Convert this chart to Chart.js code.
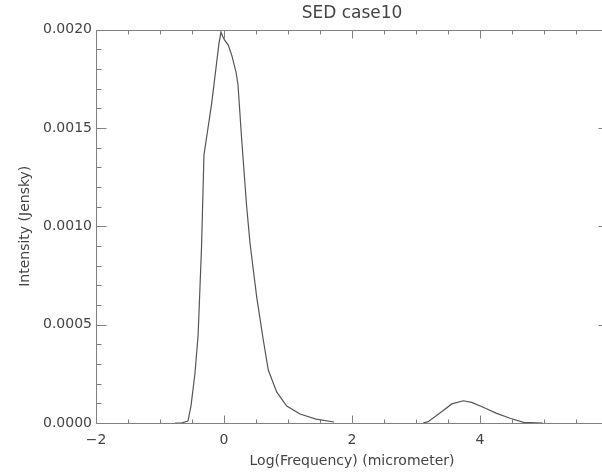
<!doctype html>
<html lang="en">
  <head>
    <meta charset="utf-8">
    <title>SED case10</title>
    <script src="https://cdn.jsdelivr.net/npm/chart.js@4.4.1/dist/chart.umd.min.js"></script>
    <style>
      body { margin: 0; overflow: hidden; background: #fff; }
      #chart-container { position: relative; width: 620px; height: 472px; }
    </style>
  </head>
  <body>
    <div id="chart-container">
      <canvas id="sed-chart"></canvas>
    </div>
    <script>
    // optical / near-IR peak
    const peak1X = [-0.766, -0.656, -0.563, -0.516, -0.453, -0.405, -0.375, -0.352, -0.34, -0.313,
                    -0.192, -0.078, -0.047, -0.023, 0.008, 0.067, 0.125, 0.188, 0.219, 0.277,
                    0.352, 0.406, 0.511, 0.614, 0.692, 0.823, 0.98, 1.188, 1.438, 1.72];
    const peak1Y = [0, 0.000001, 0.00001, 0.000086, 0.000254, 0.000445, 0.000692, 0.000885, 0.001032, 0.001362,
                    0.001626, 0.001931, 0.001987, 0.001967, 0.001947, 0.001921, 0.001865, 0.001784, 0.001718, 0.001438,
                    0.001108, 0.000915, 0.00064, 0.000422, 0.000269, 0.000158, 0.000086, 0.000046, 0.00002, 0.000005];
    // far-IR bump
    const peak2X = [3.11, 3.19, 3.40, 3.56, 3.74, 3.87, 4.05, 4.26, 4.47, 4.68, 4.98];
    const peak2Y = [0, 0.0000066, 0.000057, 0.000097, 0.000113, 0.000105, 0.00008, 0.000049, 0.000024, 0.0000036, 0];

    const xTickValues = [-2, 0, 2, 4];
    const yTickValues = [0, 0.0005, 0.001, 0.0015, 0.002];

    const axisColor = '#808080';
    const lineColor = '#555555';
    const textColor = '#444444';
    const fontFamily = '"DejaVu Sans", sans-serif';

    function toPoints(xs, ys) {
      return xs.map((x, i) => ({ x: x, y: ys[i] }));
    }

    // IDL style frame: box round the plot with inward major/minor ticks on all four sides
    const framePlugin = {
      id: 'frame',
      beforeDatasetsDraw(chart) {
        const { ctx, chartArea: a, scales: { x, y } } = chart;
        const L = Math.round(a.left) + 0.5, R = Math.round(a.right) + 0.5;
        const T = Math.round(a.top) + 0.5, B = Math.round(a.bottom) + 0.5;
        ctx.save();
        ctx.strokeStyle = axisColor;
        ctx.lineWidth = 1;
        ctx.beginPath();
        ctx.rect(L, T, R - L, B - T);
        // x ticks every 0.5, major every 2
        for (let v = x.min; v <= x.max + 1e-9; v += 0.5) {
          const px = Math.round(x.getPixelForValue(v)) + 0.5;
          const len = Math.abs(v % 2) < 1e-9 ? 8 : 4;
          ctx.moveTo(px, B); ctx.lineTo(px, B - len);
          ctx.moveTo(px, T); ctx.lineTo(px, T + len);
        }
        // y ticks every 0.0001, major every 0.0005
        for (let i = 0; i <= 20; i++) {
          const py = Math.round(y.getPixelForValue(i * 0.0001)) + 0.5;
          const len = i % 5 === 0 ? 10 : 5;
          ctx.moveTo(L, py); ctx.lineTo(L + len, py);
          ctx.moveTo(R, py); ctx.lineTo(R - len, py);
        }
        ctx.stroke();
        ctx.restore();
      }
    };

    const lineStyle = {
      borderColor: lineColor,
      borderWidth: 1.2,
      pointRadius: 0,
      showLine: true,
      tension: 0,
      fill: false
    };

    new Chart(document.getElementById('sed-chart'), {
      type: 'scatter',
      data: {
        datasets: [
          Object.assign({ label: 'peak1', data: toPoints(peak1X, peak1Y) }, lineStyle),
          Object.assign({ label: 'peak2', data: toPoints(peak2X, peak2Y) }, lineStyle)
        ]
      },
      options: {
        responsive: true,
        maintainAspectRatio: false,
        animation: false,
        layout: { padding: { left: 0, right: 12, top: 0, bottom: 0 } },
        plugins: {
          legend: { display: false },
          tooltip: { enabled: false },
          title: {
            display: true,
            text: 'SED case10',
            fullSize: false,
            color: textColor,
            font: { family: fontFamily, size: 17, weight: 'normal' },
            padding: { top: 3, bottom: 6.1 }
          }
        },
        scales: {
          x: {
            type: 'linear',
            min: -2,
            max: 6,
            afterFit: (s) => { s.height = 49; },
            afterBuildTicks: (s) => { s.ticks = xTickValues.map(v => ({ value: v })); },
            grid: { display: false, drawTicks: false },
            border: { display: false },
            ticks: {
              color: textColor,
              padding: 9,
              font: { family: fontFamily, size: 14 },
              callback: (v) => String(v).replace('-', '\u2212')
            },
            title: {
              display: true,
              text: 'Log(Frequency) (micrometer)',
              color: textColor,
              font: { family: fontFamily, size: 14 },
              padding: { top: 0, bottom: 2.6 }
            }
          },
          y: {
            type: 'linear',
            min: 0,
            max: 0.002,
            afterFit: (s) => { s.width = 96; },
            afterBuildTicks: (s) => { s.ticks = yTickValues.map(v => ({ value: v })); },
            grid: { display: false, drawTicks: false },
            border: { display: false },
            ticks: {
              color: textColor,
              padding: 4,
              font: { family: fontFamily, size: 14 },
              callback: (v) => Number(v).toFixed(4)
            },
            title: {
              display: true,
              text: 'Intensity (Jensky)',
              color: textColor,
              font: { family: fontFamily, size: 14 },
              padding: { top: 16.6, bottom: 0 }
            }
          }
        }
      },
      plugins: [framePlugin]
    });
    </script>
  </body>
</html>
